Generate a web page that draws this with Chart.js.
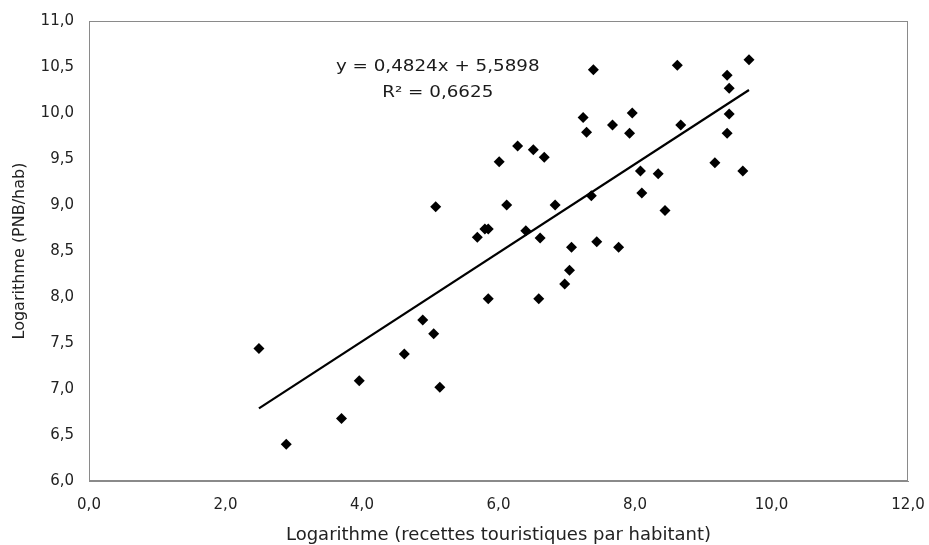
<!DOCTYPE html>
<html>
<head>
<meta charset="utf-8">
<script src="https://cdn.jsdelivr.net/npm/chart.js@4/dist/chart.umd.min.js"></script>
<style>
  html, body { margin: 0; padding: 0; background: #fff; }
  #wrap { width: 929px; height: 545px; }
</style>
</head>
<body>
<div id="wrap"><canvas id="scatterChart" width="929" height="545"></canvas></div>
<script>
// log of tourism receipts per inhabitant (x) vs log GNP per inhabitant (y)
const xValues = [2.49, 2.89, 3.70, 3.96, 4.62, 4.89, 5.05, 5.14, 5.08,
    5.69, 5.80, 5.85, 5.85, 6.01, 6.12, 6.28, 6.40, 6.51, 6.61, 6.59, 6.67,
    6.83, 6.97, 7.04, 7.07, 7.24, 7.29, 7.36, 7.39, 7.44, 7.67, 7.76, 7.92,
    7.96, 8.08, 8.10, 8.34, 8.44, 8.62, 8.67, 9.17, 9.35, 9.35, 9.38, 9.38,
    9.58, 9.67];
const yValues = [7.44, 6.40, 6.68, 7.09, 7.38, 7.75, 7.60, 7.02, 8.98,
    8.65, 8.74, 8.74, 7.98, 9.47, 9.00, 9.64, 8.72, 9.60, 8.64, 7.98, 9.52,
    9.00, 8.14, 8.29, 8.54, 9.95, 9.79, 9.10, 10.47, 8.60, 9.87, 8.54, 9.78,
    10.00, 9.37, 9.13, 9.34, 8.94, 10.52, 9.87, 9.46, 10.41, 9.78, 10.27, 9.99,
    9.37, 10.58];

// trend line ends
const trendX = [2.49, 9.67];
const trendY = [6.79, 10.25];

const equationLines = ['y = 0,4824x + 5,5898', 'R² = 0,6625'];
const xTitle = 'Logarithme (recettes touristiques par habitant)';
const yTitle = 'Logarithme (PNB/hab)';

const points = xValues.map((x, i) => ({ x: x, y: yValues[i] }));
const trend = trendX.map((x, i) => ({ x: x, y: trendY[i] }));

const fmt = v => v.toFixed(1).replace('.', ',');
const FONT = '"DejaVu Sans", "Liberation Sans", Arial, sans-serif';

// box around the plot area + equation text
const framePlugin = {
    id: 'frame',
    beforeDatasetsDraw(chart) {
        const a = chart.chartArea;
        const ctx = chart.ctx;
        ctx.save();
        ctx.strokeStyle = '#8a8a8a';
        ctx.lineWidth = 1;
        ctx.strokeRect(a.left + 0.5, a.top + 0.5, a.right - a.left - 1, a.bottom - a.top - 1);
        ctx.restore();
    },
    afterDatasetsDraw(chart) {
        const ctx = chart.ctx;
        const xs = chart.scales.x;
        const ys = chart.scales.y;
        const cx = xs.getPixelForValue(5.11);
        ctx.save();
        ctx.fillStyle = '#1a1a1a';
        ctx.font = '15px ' + FONT;
        ctx.textAlign = 'center';
        ctx.textBaseline = 'middle';
        // the scanned text is a bit wider than the font
        ctx.translate(cx, 0);
        ctx.scale(1.22, 1);
        ctx.fillText(equationLines[0], 0, ys.getPixelForValue(10.5));
        ctx.fillText(equationLines[1], 0, ys.getPixelForValue(10.22));
        ctx.restore();
    }
};

const ctx = document.getElementById('scatterChart').getContext('2d');
new Chart(ctx, {
    type: 'scatter',
    data: {
        datasets: [{
            label: 'Pays',
            data: points,
            pointStyle: 'rectRot',
            pointRadius: 5.5,
            backgroundColor: '#000',
            borderColor: '#000',
            borderWidth: 0
        }, {
            label: 'Tendance',
            type: 'line',
            data: trend,
            borderColor: '#000',
            borderWidth: 2.2,
            pointRadius: 0,
            fill: false
        }]
    },
    options: {
        responsive: false,
        animation: false,
        layout: { padding: { top: 21, right: 21, left: 0, bottom: 0 } },
        plugins: {
            legend: { display: false },
            tooltip: { enabled: false }
        },
        scales: {
            x: {
                type: 'linear',
                min: 0, max: 12,
                // invisible tick marks, used only to push the labels down
                grid: {
                    display: true, drawOnChartArea: false, drawTicks: true,
                    tickLength: 15, color: 'rgba(0,0,0,0)'
                },
                border: { display: true, color: '#8a8a8a' },
                ticks: {
                    stepSize: 2, padding: 0, color: '#222',
                    font: { family: FONT, size: 15 },
                    callback: v => fmt(v)
                },
                title: {
                    display: true, text: xTitle, color: '#222', padding: { top: 0, bottom: -1 },
                    font: { family: FONT, size: 18 }
                },
                afterFit: s => {
                    s.height = 64;
                    s.paddingLeft = 0;
                    s.paddingRight = 0;
                }
            },
            y: {
                type: 'linear',
                min: 6, max: 11,
                grid: { display: false, drawTicks: false },
                border: { display: true, color: '#8a8a8a' },
                ticks: {
                    stepSize: 0.5, padding: 15, color: '#222',
                    font: { family: FONT, size: 15 },
                    callback: v => fmt(v)
                },
                title: {
                    display: true, text: yTitle, color: '#222', padding: 10,
                    font: { family: FONT, size: 16 }
                },
                afterFit: s => {
                    s.width = 89;
                    s.paddingTop = 0;
                    s.paddingBottom = 0;
                }
            }
        }
    },
    plugins: [framePlugin]
});
</script>
</body>
</html>
